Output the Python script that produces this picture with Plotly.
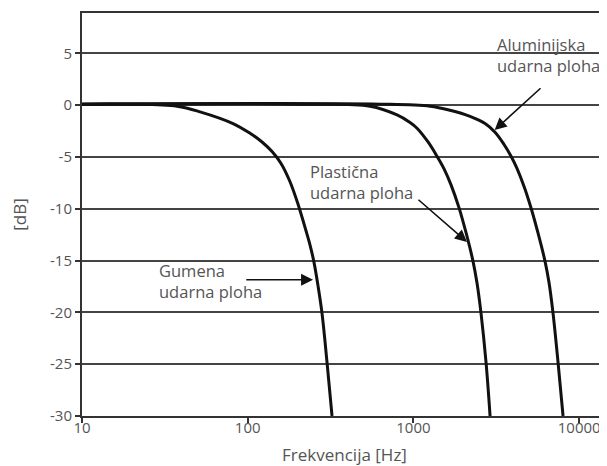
import numpy as np
import plotly.graph_objects as go

# Data (frequency in Hz, level in dB)
rubber_f = [10, 19.49, 37.44, 51.54, 81.53, 103.25, 122.0, 140.2, 158.9, 180.0, 201.2, 224.8,
            237.7, 251.2, 265.6, 280.8, 301.0, 322.7]
rubber_db = [0.1, 0.1, -0.1, -0.64, -1.77, -2.71, -3.55, -4.48, -5.62, -7.39, -9.56, -12.12,
             -13.50, -15.17, -17.44, -20.1, -24.83, -30.0]

plastic_f = [10, 206.8, 547.1, 796.2, 953.8, 1051, 1225, 1388, 1530, 1686, 1885, 2077, 2289,
             2420, 2558, 2742, 2900]
plastic_db = [0.1, 0.1, -0.1, -0.94, -1.67, -2.22, -3.55, -4.93, -6.14, -7.69, -9.91, -12.31, -15.07,
              -17.19, -20.1, -24.83, -30.0]

alu_f = [10, 628.6, 1260, 1663, 2196, 2705, 3108, 3522, 3882, 4220, 4651, 5125, 5648, 6225,
         6581, 6957, 7458, 7995]
alu_db = [0.1, 0.1, -0.1, -0.49, -1.08, -1.77, -2.61, -3.79, -4.93, -6.12, -7.84, -9.92, -12.35, -15.07,
          -17.14, -20.1, -24.83, -30.0]

y_ticks = [5, 0, -5, -10, -15, -20, -25, -30]
y_ticktext = ["5", "0", "-5", "-10", "-15", "-20", "-25", "-30"]
x_ticks = [10, 100, 1000, 10000]
x_ticktext = ["10", "100", "1000", "10000"]

FONT = "Open Sans"
TXT = "#555555"
INK = "#111111"

fig = go.Figure()
for f, d in [(rubber_f, rubber_db), (plastic_f, plastic_db), (alu_f, alu_db)]:
    fig.add_trace(go.Scatter(x=f, y=d, mode="lines",
                             line=dict(color=INK, width=3, shape="spline", smoothing=1.0),
                             showlegend=False, hoverinfo="skip"))

lg = np.log10
annotations = [
    # texts
    dict(x=lg(3100), y=4.88, text="Aluminijska<br>udarna ploha", xanchor="left", yanchor="middle",
         showarrow=False, align="left"),
    dict(x=lg(231), y=-7.4, text="Plastična<br>udarna ploha", xanchor="left", yanchor="middle",
         showarrow=False, align="left"),
    dict(x=lg(28.2), y=-17.0, text="Gumena<br>udarna ploha", xanchor="left", yanchor="middle",
         showarrow=False, align="left"),
    # arrows
    dict(x=lg(3090), y=-2.40, ax=lg(5970), ay=1.77, axref="x", ayref="y", text="",
         showarrow=True, arrowhead=2, arrowsize=1.5, arrowwidth=1.6, arrowcolor=INK),
    dict(x=lg(2104), y=-13.2, ax=lg(1050), ay=-9.0, axref="x", ayref="y", text="",
         showarrow=True, arrowhead=2, arrowsize=1.5, arrowwidth=1.6, arrowcolor=INK),
    dict(x=lg(248), y=-16.85, ax=lg(96), ay=-16.85, axref="x", ayref="y", text="",
         showarrow=True, arrowhead=2, arrowsize=1.5, arrowwidth=1.6, arrowcolor=INK),
]
for a in annotations:
    a.setdefault("font", dict(family=FONT, size=16.5, color=TXT))
    a["xref"] = "x"
    a["yref"] = "y"

# The page adds an 8px body margin, so the figure is sized/offset to fill the 607x466 window.
fig.update_layout(
    width=599, height=458,
    margin=dict(l=74, r=0, t=5, b=50, autoexpand=False),
    paper_bgcolor="white", plot_bgcolor="white",
    font=dict(family=FONT, size=15, color=TXT),
    annotations=annotations,
    xaxis=dict(type="log", range=[1, 4.168], tickvals=x_ticks, ticktext=x_ticktext,
               showgrid=False, zeroline=False, automargin=False, ticklabeloverflow="allow",
               showline=True, linecolor="#333333", linewidth=2, mirror=True,
               ticks="outside", ticklen=5, tickwidth=2, tickcolor="#333333",
               ticklabelstandoff=-8,
               tickfont=dict(size=15, color=TXT, family=FONT),
               title=dict(text="Frekvencija [Hz]", font=dict(size=17, color=TXT, family=FONT), standoff=14)),
    yaxis=dict(range=[-30, 8.9], tickvals=y_ticks, ticktext=y_ticktext,
               showgrid=True, gridcolor="#444444", gridwidth=1.6, zeroline=False, automargin=False,
               showline=True, linecolor="#333333", linewidth=2,
               ticks="outside", ticklen=5, tickwidth=2, tickcolor="#333333",
               tickfont=dict(size=15, color=TXT, family=FONT),
               title=dict(text="[dB]", font=dict(size=17, color=TXT, family=FONT), standoff=19)),
)

fig.write_html("out.html")
